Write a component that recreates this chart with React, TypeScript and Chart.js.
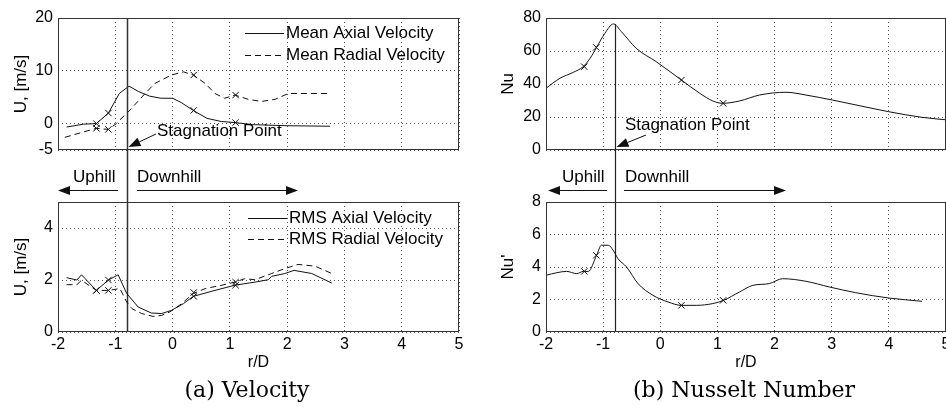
import React, { useEffect, useRef } from "react";
import { Chart, registerables } from "chart.js";

Chart.register(...registerables);

const W = 946;
const H = 407;

// ---- data ----
const xTicks = [-2, -1, 0, 1, 2, 3, 4, 5];
const stagnationR = -0.8;
const markerR = [-1.33, -1.12, 0.37, 1.1];

const meanAxialR = [-1.85, -1.55, -1.33, -1.12, -0.93, -0.76, -0.6, -0.4, -0.2, 0.0, 0.15, 0.36, 0.6, 0.85, 1.09, 1.4, 2.0, 2.75];
const meanAxialU = [-0.65, -0.1, 0.0, 2.0, 5.7, 7.1, 6.1, 5.2, 4.8, 4.8, 4.0, 2.5, 1.0, 0.4, 0.2, -0.2, -0.4, -0.5];
const meanRadialR = [-1.88, -1.53, -1.33, -1.12, -0.98, -0.92, -0.74, -0.48, -0.31, -0.02, 0.19, 0.36, 0.57, 0.74, 0.91, 1.09, 1.32, 1.55, 1.79, 2.02, 2.7];
const meanRadialU = [-2.6, -1.5, -0.9, -1.1, 0.0, 0.7, 2.6, 5.7, 7.6, 9.2, 9.8, 9.2, 7.6, 5.7, 4.8, 5.4, 4.6, 4.2, 4.6, 5.7, 5.7];
const meanAxialMarks = [0.0, 2.0, 2.5, 0.2];
const meanRadialMarks = [-0.9, -1.1, 9.2, 5.4];

const rmsAxialR = [-1.85, -1.67, -1.59, -1.33, -1.12, -0.95, -0.8, -0.6, -0.37, -0.19, -0.02, 0.19, 0.36, 0.74, 1.09, 1.44, 1.67, 1.73, 1.96, 2.12, 2.43, 2.78];
const rmsAxialU = [2.09, 2.0, 2.2, 1.6, 2.0, 2.2, 1.48, 0.96, 0.73, 0.71, 0.83, 1.09, 1.37, 1.6, 1.8, 1.92, 2.01, 2.14, 2.25, 2.37, 2.25, 1.88];
const rmsRadialR = [-1.85, -1.67, -1.59, -1.33, -1.12, -0.92, -0.8, -0.71, -0.54, -0.34, -0.19, -0.05, 0.16, 0.36, 0.57, 0.86, 1.09, 1.26, 1.44, 1.73, 1.96, 2.19, 2.49, 2.78];
const rmsRadialU = [1.82, 1.82, 1.99, 1.6, 1.6, 1.67, 1.15, 0.9, 0.71, 0.6, 0.64, 0.77, 1.09, 1.48, 1.67, 1.8, 1.92, 2.05, 2.01, 2.25, 2.44, 2.6, 2.53, 2.25];
const rmsAxialMarks = [1.6, 2.0, 1.37, 1.8];
const rmsRadialMarks = [1.6, 1.6, 1.52, 1.92];

const nuR = [-2.0, -1.76, -1.52, -1.35, -1.23, -1.115, -0.97, -0.82, -0.68, -0.42, -0.07, 0.37, 0.69, 0.92, 1.09, 1.385, 1.735, 2.2, 2.55, 3.01, 3.48, 4.0, 4.58, 5.0];
const nuVal = [37.4, 43.4, 47.1, 50.5, 55.5, 62.2, 70.7, 76.4, 71.7, 61.6, 53.5, 42.4, 34.4, 29.7, 28.3, 29.7, 33.3, 35.0, 33.3, 30.3, 26.9, 23.2, 19.8, 18.3];
const nuMarks = [50.5, 62.2, 42.4, 28.3];
const nuPeak = 76.4;

const nuPrimeR = [-2.0, -1.81, -1.64, -1.46, -1.35, -1.26, -1.115, -1.03, -0.91, -0.825, -0.74, -0.59, -0.39, -0.13, 0.135, 0.37, 0.63, 0.92, 1.11, 1.385, 1.62, 1.91, 2.14, 2.55, 2.96, 3.42, 4.0, 4.58];
const nuPrimeVal = [3.49, 3.65, 3.73, 3.59, 3.73, 3.73, 4.72, 5.34, 5.34, 5.03, 4.51, 4.0, 2.98, 2.26, 1.85, 1.64, 1.64, 1.75, 1.95, 2.46, 2.87, 2.98, 3.28, 3.12, 2.77, 2.42, 2.09, 1.89];
const nuPrimeMarks = [3.73, 4.72, 1.64, 1.95];

const meanYTicks = [-5, 0, 10, 20];
const rmsYTicks = [0, 2, 4];
const nuYTicks = [0, 20, 40, 60, 80];
const nuPrimeYTicks = [0, 2, 4, 6, 8];

// ---- styling ----
const SANS = "'Liberation Sans', Arial, Helvetica, sans-serif";
const SERIF = "'DejaVu Serif', serif";
const INK = "#111";
const GRID = "#555";
const Y_AXIS_W = 45;

const AREA_TL = { left: 58, top: 18, right: 459, bottom: 150 };
const AREA_BL = { left: 58, top: 202, right: 459, bottom: 332 };
const AREA_TR = { left: 546, top: 18, right: 946, bottom: 150 };
const AREA_BR = { left: 546, top: 202, right: 946, bottom: 332 };

function pts(xs: number[], ys: number[]) {
  return xs.map((x, i) => ({ x, y: ys[i] }));
}

function lineDs(label: string, xs: number[], ys: number[], dash: number[], smooth: boolean) {
  return {
    label,
    data: pts(xs, ys),
    showLine: true,
    borderColor: INK,
    borderWidth: 1,
    borderDash: dash,
    pointRadius: 0,
    pointHoverRadius: 0,
    fill: false,
    tension: 0,
    cubicInterpolationMode: smooth ? "monotone" : "default",
  };
}

function markDs(ys: number[]) {
  return {
    label: "markers",
    data: pts(markerR, ys),
    showLine: false,
    pointStyle: "crossRot",
    pointRadius: 4.5,
    pointHoverRadius: 0,
    pointBorderColor: INK,
    pointBorderWidth: 1,
    pointBackgroundColor: "transparent",
    borderColor: INK,
  };
}

function arrow(ctx: CanvasRenderingContext2D, x1: number, y1: number, x2: number, y2: number, len = 11, half = 4) {
  const ang = Math.atan2(y2 - y1, x2 - x1);
  const bx = x2 - len * Math.cos(ang);
  const by = y2 - len * Math.sin(ang);
  ctx.beginPath();
  ctx.moveTo(x1, y1);
  ctx.lineTo(bx, by);
  ctx.stroke();
  ctx.beginPath();
  ctx.moveTo(x2, y2);
  ctx.lineTo(bx + half * Math.sin(ang), by - half * Math.cos(ang));
  ctx.lineTo(bx - half * Math.sin(ang), by + half * Math.cos(ang));
  ctx.closePath();
  ctx.fill();
}

function text(ctx: CanvasRenderingContext2D, s: string, x: number, y: number, font: string, align: CanvasTextAlign = "left", rot = 0) {
  ctx.save();
  ctx.font = font;
  ctx.fillStyle = "#000";
  ctx.textAlign = align;
  ctx.textBaseline = "middle";
  ctx.translate(x, y);
  if (rot) ctx.rotate(rot);
  ctx.fillText(s, 0, 0);
  ctx.restore();
}

function legend(ctx: CanvasRenderingContext2D, x0: number, x1: number, rows: { y: number; dash: number[]; label: string }[]) {
  rows.forEach((r) => {
    ctx.save();
    ctx.strokeStyle = INK;
    ctx.lineWidth = 1;
    ctx.setLineDash(r.dash);
    ctx.beginPath();
    ctx.moveTo(x0, r.y + 0.5);
    ctx.lineTo(x1, r.y + 0.5);
    ctx.stroke();
    ctx.restore();
    text(ctx, r.label, x1 + 2, r.y, `17px ${SANS}`);
  });
}

type Extra = (chart: any, ctx: CanvasRenderingContext2D) => void;

function makeConfig(opts: {
  area: { left: number; top: number; right: number; bottom: number };
  yMin: number;
  yMax: number;
  yTicks: number[];
  showX: boolean;
  datasets: any[];
  extra: Extra;
}) {
  const { area, yMin, yMax, yTicks, showX, datasets, extra } = opts;
  const xH = showX ? 26 : 0;
  const tickFont = { family: SANS, size: 16 };
  return {
    type: "scatter" as const,
    data: { datasets },
    options: {
      responsive: false,
      animation: false,
      devicePixelRatio: 1,
      events: [],
      layout: {
        autoPadding: false,
        padding: {
          left: area.left - Y_AXIS_W,
          top: area.top,
          right: W - area.right,
          bottom: H - area.bottom - xH,
        },
      },
      plugins: { legend: { display: false }, tooltip: { enabled: false } },
      scales: {
        x: {
          type: "linear",
          min: xTicks[0],
          max: xTicks[xTicks.length - 1],
          afterBuildTicks: (s: any) => {
            s.ticks = xTicks.map((v) => ({ value: v }));
          },
          afterFit: (s: any) => {
            s.height = xH;
            s.paddingLeft = 0;
            s.paddingRight = 0;
          },
          grid: { color: GRID, lineWidth: 1, drawTicks: false },
          border: { display: false, dash: [1, 3] },
          ticks: { display: showX, padding: 3, color: "#000", font: tickFont, maxRotation: 0, autoSkip: false },
        },
        y: {
          type: "linear",
          min: yMin,
          max: yMax,
          afterBuildTicks: (s: any) => {
            s.ticks = yTicks.map((v) => ({ value: v }));
          },
          afterFit: (s: any) => {
            s.width = Y_AXIS_W;
            s.paddingTop = 0;
            s.paddingBottom = 0;
          },
          grid: { color: GRID, lineWidth: 1, drawTicks: false },
          border: { display: false, dash: [1, 3] },
          ticks: { padding: 5, color: "#000", font: tickFont, autoSkip: false },
        },
      },
    },
    plugins: [
      {
        id: "frameAndNotes",
        afterDraw(chart: any) {
          const { ctx, chartArea: a } = chart;
          ctx.save();
          ctx.strokeStyle = "#333";
          ctx.lineWidth = 1;
          ctx.setLineDash([]);
          ctx.strokeRect(Math.round(a.left) + 0.5, Math.round(a.top) + 0.5, Math.round(a.right - a.left) - 1, Math.round(a.bottom - a.top) - 1);
          ctx.strokeStyle = INK;
          ctx.fillStyle = INK;
          extra(chart, ctx);
          ctx.restore();
        },
      },
    ],
  };
}

const ANNOT_FONT = `17px ${SANS}`;
const YTITLE_FONT = `17px ${SANS}`;
const XTITLE_FONT = `16px ${SANS}`;
const CAPTION_FONT = `22px ${SERIF}`;

const configTL = () =>
  makeConfig({
    area: AREA_TL,
    yMin: -5,
    yMax: 20,
    yTicks: meanYTicks,
    showX: false,
    datasets: [
      lineDs("Mean Axial Velocity", meanAxialR, meanAxialU, [], false),
      lineDs("Mean Radial Velocity", meanRadialR, meanRadialU, [6, 4], false),
      markDs(meanAxialMarks),
      markDs(meanRadialMarks),
    ],
    extra: (chart, ctx) => {
      const a = chart.chartArea;
      legend(ctx, 245, 284, [
        { y: 33, dash: [], label: "Mean Axial Velocity" },
        { y: 55, dash: [6, 4], label: "Mean Radial Velocity" },
      ]);
      text(ctx, "U, [m/s]", 21, (a.top + a.bottom) / 2, YTITLE_FONT, "center", -Math.PI / 2);
      const xs = Math.round(chart.scales.x.getPixelForValue(stagnationR)) + 0.5;
      ctx.strokeStyle = "#333";
      ctx.lineWidth = 1.5;
      ctx.beginPath();
      ctx.moveTo(xs, a.top);
      ctx.lineTo(xs, AREA_BL.bottom);
      ctx.stroke();
      ctx.strokeStyle = INK;
      ctx.lineWidth = 1;
      text(ctx, "Stagnation Point", 157, 131, ANNOT_FONT);
      arrow(ctx, 156, 134, xs + 1, 147, 12, 4.5);
      text(ctx, "Uphill", 73, 177, ANNOT_FONT);
      text(ctx, "Downhill", 137, 177, ANNOT_FONT);
      arrow(ctx, 118, 190.5, 58, 190.5, 12, 4.5);
      arrow(ctx, 137, 190.5, 298, 190.5, 12, 4.5);
    },
  });

const configBL = () =>
  makeConfig({
    area: AREA_BL,
    yMin: 0,
    yMax: 5,
    yTicks: rmsYTicks,
    showX: true,
    datasets: [
      lineDs("RMS Axial Velocity", rmsAxialR, rmsAxialU, [], false),
      lineDs("RMS Radial Velocity", rmsRadialR, rmsRadialU, [6, 4], false),
      markDs(rmsAxialMarks),
      markDs(rmsRadialMarks),
    ],
    extra: (chart, ctx) => {
      const a = chart.chartArea;
      legend(ctx, 248, 287, [
        { y: 218, dash: [], label: "RMS Axial Velocity" },
        { y: 239, dash: [6, 4], label: "RMS Radial Velocity" },
      ]);
      text(ctx, "U, [m/s]", 21, (a.top + a.bottom) / 2, YTITLE_FONT, "center", -Math.PI / 2);
      text(ctx, "r/D", (a.left + a.right) / 2, 363, XTITLE_FONT, "center");
      text(ctx, "(a) Velocity", 247, 391, CAPTION_FONT, "center");
    },
  });

const configTR = () =>
  makeConfig({
    area: AREA_TR,
    yMin: 0,
    yMax: 80,
    yTicks: nuYTicks,
    showX: false,
    datasets: [lineDs("Nu", nuR, nuVal, [], true), markDs(nuMarks)],
    extra: (chart, ctx) => {
      const a = chart.chartArea;
      text(ctx, "Nu", 508, (a.top + a.bottom) / 2, YTITLE_FONT, "center", -Math.PI / 2);
      const xs = Math.round(chart.scales.x.getPixelForValue(stagnationR)) + 0.5;
      const yTop = chart.scales.y.getPixelForValue(nuPeak);
      ctx.strokeStyle = "#222";
      ctx.lineWidth = 1.2;
      ctx.beginPath();
      ctx.moveTo(xs, yTop);
      ctx.lineTo(xs, AREA_BR.bottom);
      ctx.stroke();
      ctx.strokeStyle = INK;
      ctx.lineWidth = 1;
      text(ctx, "Stagnation Point", 625, 125, ANNOT_FONT);
      arrow(ctx, 646, 135, xs + 1, 147, 12, 4.5);
      text(ctx, "Uphill", 562, 177, ANNOT_FONT);
      text(ctx, "Downhill", 625, 177, ANNOT_FONT);
      arrow(ctx, 607, 190.5, 548, 190.5, 12, 4.5);
      arrow(ctx, 624, 190.5, 786, 190.5, 12, 4.5);
    },
  });

const configBR = () =>
  makeConfig({
    area: AREA_BR,
    yMin: 0,
    yMax: 8,
    yTicks: nuPrimeYTicks,
    showX: true,
    datasets: [lineDs("Nu'", nuPrimeR, nuPrimeVal, [], true), markDs(nuPrimeMarks)],
    extra: (chart, ctx) => {
      const a = chart.chartArea;
      text(ctx, "Nu'", 508, (a.top + a.bottom) / 2, YTITLE_FONT, "center", -Math.PI / 2);
      text(ctx, "r/D", (a.left + a.right) / 2, 363, XTITLE_FONT, "center");
      text(ctx, "(b) Nusselt Number", 744, 391, CAPTION_FONT, "center");
    },
  });

const CONFIGS = [configTL, configBL, configTR, configBR];

export default function App() {
  const r0 = useRef<HTMLCanvasElement>(null);
  const r1 = useRef<HTMLCanvasElement>(null);
  const r2 = useRef<HTMLCanvasElement>(null);
  const r3 = useRef<HTMLCanvasElement>(null);
  const refs = [r0, r1, r2, r3];

  useEffect(() => {
    const charts = CONFIGS.map((c, i) => new Chart(refs[i].current as HTMLCanvasElement, c() as any));
    return () => charts.forEach((ch) => ch.destroy());
  }, []);

  return (
    <div style={{ position: "fixed", left: 0, top: 0, width: W, height: H, background: "#fff", overflow: "hidden" }}>
      {refs.map((r, i) => (
        <canvas
          key={i}
          ref={r}
          width={W}
          height={H}
          style={{ position: "absolute", left: 0, top: 0, width: W, height: H }}
        />
      ))}
    </div>
  );
}
